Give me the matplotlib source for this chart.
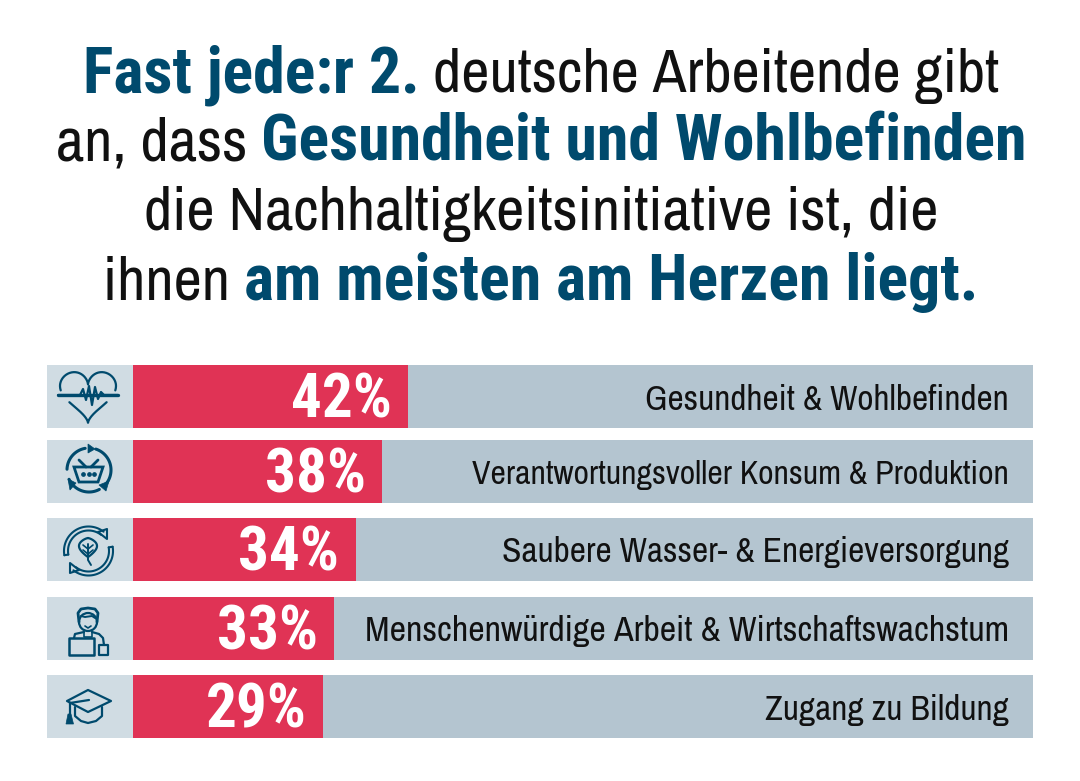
import numpy as np
import matplotlib
matplotlib.use('Agg')
import matplotlib.pyplot as plt
from matplotlib.patches import Polygon, Rectangle, Circle

REGULAR = ['Archivo Narrow', 'Roboto Condensed', 'Liberation Sans', 'DejaVu Sans']
BOLD = ['Roboto Condensed', 'Liberation Sans', 'DejaVu Sans']
plt.rcParams['font.family'] = REGULAR

categories = ['Gesundheit & Wohlbefinden',
              'Verantwortungsvoller Konsum & Produktion',
              'Saubere Wasser- & Energieversorgung',
              'Menschenwürdige Arbeit & Wirtschaftswachstum',
              'Zugang zu Bildung']
percent = [42, 38, 34, 33, 29]
# the 33% bar is drawn shorter than its label in the picture
bar_length = [42, 38, 34, 30.7, 29]

title_lines = [
    [('Fast jede:r 2.', True), (' deutsche Arbeitende gibt', False)],
    [('an, dass ', False), ('Gesundheit und Wohlbefinden', True)],
    [('die Nachhaltigkeitsinitiative ist, die', False)],
    [('ihnen ', False), ('am meisten am Herzen liegt.', True)],
]

NAVY = '#004a6d'
RED = '#e03355'
TRACK = '#b4c5d0'
ICON_BG = '#d0dce3'
INK = '#111111'

fig = plt.figure(figsize=(10.8, 7.81), dpi=100, facecolor='white')
W, H = 1080, 781

# overlay in pixels for title and icons
px = fig.add_axes([0, 0, 1, 1], zorder=3)
px.set_xlim(0, W)
px.set_ylim(H, 0)
px.axis('off')
px.patch.set_alpha(0)

# bars, x axis is percent
left, right, top, bottom = 47, 1033, 365, 738
ax = fig.add_axes([left / W, 1 - bottom / H, (right - left) / W, (bottom - top) / H], zorder=1)
scale = 6.55
ax.set_xlim((left - 133) / scale, (right - 133) / scale)
ax.set_ylim(bottom, top)
ax.axis('off')

row_centers = [396.5, 471.5, 549.5, 628, 706.5]
row_h = 63
x0, x1 = ax.get_xlim()
ax.barh(row_centers, [x1] * 5, height=row_h, color=TRACK, linewidth=0)
ax.barh(row_centers, [x0] * 5, height=row_h, color=ICON_BG, linewidth=0)
ax.barh(row_centers, bar_length, height=row_h, color=RED, linewidth=0)

label_sizes = [25.4, 24.3, 25.4, 25.9, 25.5]
for y, n, v, cat, fs in zip(row_centers, bar_length, percent, categories, label_sizes):
    ax.text(n - 2.5, y + 21, '%d%%' % v, color='white', fontsize=44, fontweight='bold',
            family=BOLD, ha='right', va='baseline')
    px.text(1009, y + 13, cat, color=INK, fontsize=fs, ha='right', va='baseline')

# title, mixed runs centred per line
baselines = [92, 160, 230, 300]
renderer = fig.canvas.get_renderer()
for runs, base in zip(title_lines, baselines):
    texts = []
    for s, bold in runs:
        t = px.text(0, base, s.replace(' ', '\u00a0'), fontsize=46 if bold else 44.4, va='baseline', ha='left',
                    fontweight='bold' if bold else 'normal', family=BOLD if bold else REGULAR,
                    color=NAVY if bold else INK)
        texts.append(t)
    widths = [t.get_window_extent(renderer).width for t in texts]
    x = 541 - sum(widths) / 2
    for t, w in zip(texts, widths):
        t.set_x(x)
        x += w


def arc(cx, cy, r, a1, a2, lw=1.6):
    a = np.radians(np.linspace(a1, a2, 60))
    px.plot(cx + r * np.cos(a), cy - r * np.sin(a), color=NAVY, lw=lw, solid_capstyle='round')


def line(xs, ys, lw=1.6):
    px.plot(xs, ys, color=NAVY, lw=lw, solid_capstyle='round', solid_joinstyle='round')


def tri(pts):
    px.add_patch(Polygon(pts, closed=True, color=NAVY, lw=0.5))


# heart icon
t = np.linspace(0, 2 * np.pi, 300)
hx = 88 + 1.75 * 16 * np.sin(t) ** 3
hy = 393 - 1.75 * (13 * np.cos(t) - 5 * np.cos(2 * t) - 2 * np.cos(3 * t) - np.cos(4 * t))
hx[(hy > 391) & (hy < 402)] = np.nan
line(hx, hy)
line([58, 80, 83, 86, 89, 92, 95, 98, 101, 104, 118],
     [395, 395, 389, 400, 386, 405, 387, 399, 392, 395, 395], lw=1.6)
line([58, 118], [395, 395], lw=2.4)

# basket icon
arc(89, 470, 22, 178, 100, lw=2.2)
arc(89, 470, 22, 72, -38, lw=2.2)
arc(89, 470, 22, -62, -155, lw=2.2)
tri([[88, 444], [95, 449], [88, 453]])
tri([[109, 481], [106, 491], [99, 485]])
tri([[68, 479], [76, 483], [70, 490]])
px.add_patch(Polygon([[74, 467], [103, 467], [98, 482], [79, 482]], closed=True, fc='none', ec=NAVY, lw=2))
line([79, 86], [460, 467], lw=2)
line([98, 91], [460, 467], lw=2)
px.plot([83, 88.5, 94], [474, 474, 474], ls='none', marker='o', ms=2.4, color=NAVY)

# leaf icon
cx, cy = 88.5, 551
for r in [24.5, 20.5]:
    arc(cx, cy, r, 52, 190, lw=1.5)
    arc(cx, cy, r, 232, 370, lw=1.5)
line([64.4, 68.3], [555.2, 554.6], lw=1.5)
line([112.6, 108.7], [546.7, 547.4], lw=1.5)
px.add_patch(Polygon([[107, 529], [107, 539], [98, 532]], closed=True, fc=ICON_BG, ec=NAVY, lw=1.5, joinstyle='round'))
px.add_patch(Polygon([[70, 563], [70, 573], [79, 570]], closed=True, fc=ICON_BG, ec=NAVY, lw=1.5, joinstyle='round'))
s = np.linspace(0, 1, 40)
half = 9 * np.sin(np.pi * s ** 0.8) ** 0.9
line(np.r_[88 - half, (88 + half)[::-1]], np.r_[538 + 19 * s, (538 + 19 * s)[::-1]], lw=1.6)
line([88, 88, 91], [544, 560, 565], lw=1.4)
for yy in [549, 554]:
    line([83, 88, 93], [yy - 4, yy, yy - 4], lw=1.2)

# person icon
px.add_patch(Circle((88, 622), 9, fc=ICON_BG, ec=NAVY, lw=1.6))
line([79, 78, 81, 88, 95, 98, 97], [622, 613, 609, 608, 609, 613, 622], lw=2)
line([81, 85, 92, 95], [616, 617, 616, 618], lw=1.4)
line([85, 88, 91], [626, 628, 626], lw=1.2)
line([74, 75, 84], [638, 634, 632], lw=1.6)
line([92, 99, 103, 104], [632, 634, 638, 645], lw=1.6)
line([84, 84, 92, 92], [631, 637, 637, 631], lw=1.2)
px.add_patch(Rectangle((69, 638), 25, 17, fc=ICON_BG, ec=NAVY, lw=1.8, joinstyle='round'))
px.add_patch(Rectangle((99, 645), 8.5, 10, fc=ICON_BG, ec=NAVY, lw=1.6, joinstyle='round'))

# graduation cap icon
line([75, 75, 81, 88, 96, 102, 102], [707, 716, 721, 723, 721, 716, 707])
px.add_patch(Polygon([[67, 701], [88, 690], [111, 701], [88, 712]], closed=True, fc=ICON_BG, ec=NAVY, lw=1.6, joinstyle='round'))
line([70, 89], [703, 700])
line([69.5, 69.5], [703, 714])
tri([[68, 714], [71, 714], [73.5, 724], [66, 724]])

fig.savefig('out.png', dpi=100)
